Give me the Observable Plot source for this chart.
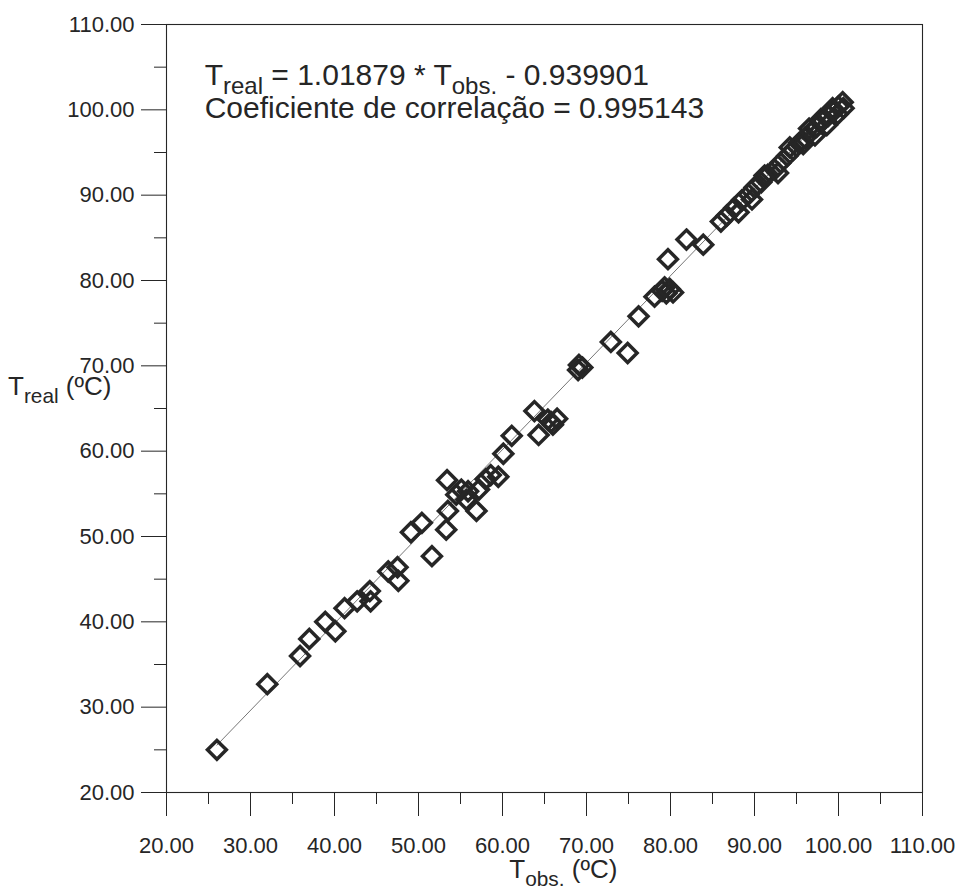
<!DOCTYPE html>
<html>
<head>
<meta charset="utf-8">
<script src="https://cdn.jsdelivr.net/npm/d3@7"></script>
<script src="https://cdn.jsdelivr.net/npm/@observablehq/plot@0.6"></script>
<style>
  html, body { margin: 0; padding: 0; background: #ffffff; }
  #chart { width: 956px; height: 894px; }
</style>
</head>
<body>
<div id="chart"></div>
<script>
// Observed temperature (x) and real temperature (y), in °C
const tObs = [
  26.0, 32.0, 35.9, 37.0, 38.9, 40.1, 41.2, 42.7, 44.2, 44.3,
  46.4, 47.5, 47.6, 49.1, 50.4, 51.6, 53.3, 53.5, 53.4, 54.5,
  55.1, 55.9, 55.7, 56.9, 57.2, 58.0, 58.6, 59.5, 60.1, 61.1,
  63.8, 64.3, 65.4, 66.0, 66.5, 65.8, 69.0, 69.1, 69.5, 72.9, 74.9, 76.2,
  78.1, 79.0, 79.5, 79.9, 80.3, 79.3, 79.7, 81.9, 83.9,
  86.0, 86.7, 87.6, 88.1, 88.5, 89.3, 89.7, 90.0, 90.8, 91.2, 91.6, 92.4, 92.8, 93.1,
  93.9, 94.2, 94.6, 95.3, 95.8, 96.0, 96.5, 96.7, 97.2, 97.4, 97.9, 98.1, 98.6,
  98.8, 99.3, 99.4, 99.9, 100.0, 100.5, 100.6
];
const tReal = [
  25.0, 32.7, 36.0, 38.0, 40.0, 38.9, 41.6, 42.4, 43.6, 42.4,
  45.9, 46.4, 44.8, 50.5, 51.6, 47.7, 50.8, 53.0, 56.6, 54.9,
  55.5, 55.3, 54.3, 53.0, 55.5, 56.7, 57.2, 57.0, 59.7, 61.8,
  64.7, 61.9, 63.7, 63.1, 63.8, 63.4, 69.5, 70.1, 69.8, 72.8, 71.5, 75.8,
  78.1, 78.8, 78.5, 79.0, 78.6, 79.2, 82.5, 84.8, 84.2,
  86.9, 87.6, 88.5, 88.0, 89.4, 90.1, 89.5, 90.9, 91.5, 92.3, 92.4, 93.0, 92.6, 93.8,
  94.6, 95.6, 95.3, 96.1, 96.0, 96.7, 97.8, 97.4, 97.0, 98.0, 98.9, 98.7, 98.2,
  99.3, 100.2, 99.8, 99.5, 100.4, 100.9, 100.2
];
// Regression reported on the chart
const fitSlope = 1.01879;
const fitIntercept = -0.939901;
const corrCoef = 0.995143;
// Axis ticks
const majorTicks = [20, 30, 40, 50, 60, 70, 80, 90, 100, 110];
const minorTicks = [25, 35, 45, 55, 65, 75, 85, 95, 105];

const points = tObs.map((x, i) => ({x, y: tReal[i]}));
const xMin = d3.min(tObs), xMax = d3.max(tObs);
const fitLine = [xMin, xMax].map(x => ({x, y: fitSlope * x + fitIntercept}));

const fmt = d3.format(".2f");
const ink = "#262626";
const font = "'Liberation Sans', Arial, sans-serif";

const chart = Plot.plot({
  width: 956,
  height: 894,
  marginLeft: 166,
  marginRight: 34,
  marginTop: 24,
  marginBottom: 102,
  x: {domain: [20, 110], label: null},
  y: {domain: [20, 110], label: null},
  style: {fontFamily: font, fontSize: "22px", color: ink, background: "#ffffff"},
  marks: [
    Plot.frame({stroke: ink, strokeWidth: 1.1}),
    Plot.axisX({ticks: majorTicks, tickSize: 24, tickPadding: 21, tickFormat: fmt, label: null, fontSize: 22, stroke: ink}),
    Plot.axisX({ticks: minorTicks, tickSize: 12, tickFormat: () => "", label: null, stroke: ink}),
    Plot.axisY({ticks: majorTicks, tickSize: 25, tickPadding: 7, tickFormat: fmt, label: null, fontSize: 22, stroke: ink}),
    Plot.axisY({ticks: minorTicks, tickSize: 12, tickFormat: () => "", label: null, stroke: ink}),
    Plot.line(fitLine, {x: "x", y: "y", stroke: "#666", strokeWidth: 0.9}),
    Plot.dot(points, {x: "x", y: "y", symbol: "diamond2", r: 8.5, stroke: ink, strokeWidth: 3.5, fill: "none"})
  ]
});

document.getElementById("chart").appendChild(chart);

// Text annotations with subscripts, positioned through the chart's scales
const sx = chart.scale("x"), sy = chart.scale("y");
const svg = d3.select(chart);

function subText(x, y, parts, size, anchor) {
  const t = svg.append("text")
    .attr("x", x).attr("y", y)
    .attr("font-family", font)
    .attr("font-size", size)
    .attr("fill", ink)
    .attr("text-anchor", anchor || "start");
  let shifted = false;
  parts.forEach(([s, sub]) => {
    const ts = t.append("tspan").text(s);
    if (sub && !shifted) { ts.attr("font-size", size * 0.8).attr("dy", size * 0.3); shifted = true; }
    else if (sub) ts.attr("font-size", size * 0.8);
    else if (shifted) { ts.attr("dy", -size * 0.3); shifted = false; }
  });
  return t;
}

subText(sx.apply(24.6), sy.apply(102.9),
  [["T", false], ["real", true], [" = " + fitSlope.toString() + " * T", false], ["obs.", true], [" - " + Math.abs(fitIntercept).toString(), false]],
  30);
subText(sx.apply(24.6), sy.apply(99.0),
  [["Coeficiente de correlação = " + corrCoef.toString(), false]], 30);

subText(sx.apply(67.3), 878,
  [["T", false], ["obs.", true], [" (ºC)", false]], 26, "middle");
subText(8, sy.apply(66.5),
  [["T", false], ["real", true], [" (ºC)", false]], 26);
</script>
</body>
</html>
